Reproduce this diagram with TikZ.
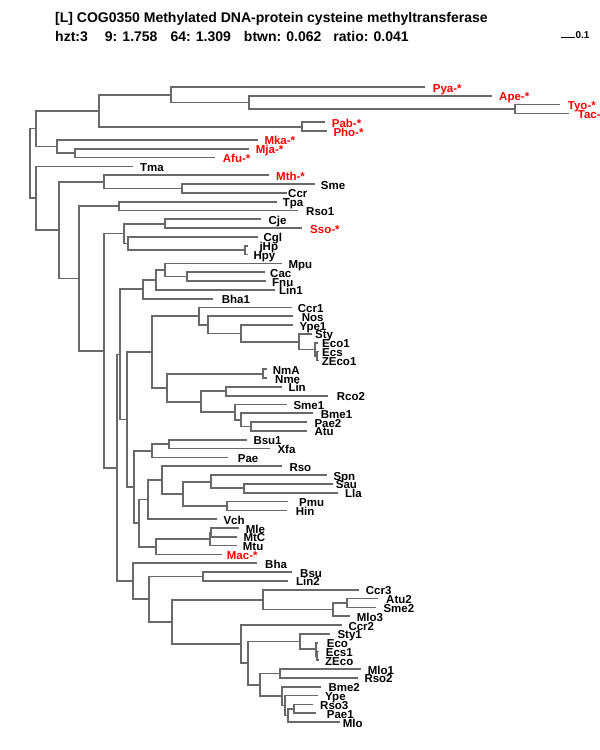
\documentclass[tikz,border=0pt]{standalone}
\usepackage{fontspec}
\setmainfont{Liberation Sans}
\usetikzlibrary{calc}
\definecolor{branchgray}{RGB}{105,105,105}
\tikzset{
  branch/.style={draw=branchgray, line width=1.7pt},
  leaflab/.style={anchor=base west, inner sep=0pt, yshift=-5pt, font=\fontsize{11.5}{12}\selectfont\bfseries},
  headtxt/.style={anchor=base west, inner sep=0pt, font=\fontsize{14}{16}\selectfont\bfseries},
}
\begin{document}
\begin{tikzpicture}[x=1pt, y=-8.82pt]
\useasboundingbox (0pt,87pt) rectangle (600pt,-663pt);
% heading
\node[headtxt] (title) at (55pt,64.7pt) {[L] COG0350 Methylated DNA-protein cysteine methyltransferase};
\node[headtxt] (stats) at (55pt,45.5pt) {hzt:3\hspace{17pt}9: 1.758\hspace{13pt}64: 1.309\hspace{13pt}btwn: 0.062\hspace{12pt}ratio: 0.041};
% scale bar
\coordinate (sbl) at (561pt,49.7pt);
\coordinate (sbr) at (575pt,49.7pt);
\draw[line width=1pt] (sbl) -- (sbr) node[anchor=base west, inner sep=0pt, yshift=-1.2pt, font=\fontsize{10}{11}\selectfont\bfseries] (sblab) {0.1};
% leaves: name / row / line end / label x / text / colour
\foreach \nm/\i/\e/\l/\txt/\col in {
  Pya/0/425/432.7/Pya-*/red, Ape/1/491.7/499/Ape-*/red,
  Tyo/2/560/567.7/Tyo-*/red, Tac/3/569.3/577.7/Tac-/red,
  Pab/4/325/331.7/Pab-*/red, Pho/5/326.7/333.3/Pho-*/red,
  Mka/6/257.7/264.3/Mka-*/red, Mja/7/249/255.7/Mja-*/red,
  Afu/8/215/222.7/Afu-*/red, Tma/9/133.3/140/Tma/black,
  Mth/10/269/276/Mth-*/red, Sme/11/315/320.7/Sme/black,
  Ccr/12/286.7/288/Ccr/black, Tpa/13/276.7/282.7/Tpa/black,
  Rso1/14/298.3/306/Rso1/black, Cje/15/261/268.3/Cje/black,
  Sso/16/301.7/310/Sso-*/red, Cgl/17/257.7/263.3/Cgl/black,
  jHp/18/248.3/259.3/jHp/black, Hpy/19/248.3/253.3/Hpy/black,
  Mpu/20/281.7/288.3/Mpu/black, Cac/21/265/270/Cac/black,
  Fnu/22/265.7/272/Fnu/black, Lin1/23/275/279/Lin1/black,
  Bha1/24/213.3/221.7/Bha1/black, Ccr1/25/291.7/297.7/Ccr1/black,
  Nos/26/293.3/301.7/Nos/black, Ype1/27/293.3/299.3/Ype1/black,
  Sty/28/311.7/315/Sty/black, Eco1/29/318/322/Eco1/black,
  Ecs/30/318.5/322/Ecs/black, ZEco1/31/318.5/321.7/ZEco1/black,
  NmA/32/266.7/272.7/NmA/black, Nme/33/266.7/275/Nme/black,
  Lin/34/281.7/288.3/Lin/black, Rco2/35/328.3/336.7/Rco2/black,
  Sme1/36/286.7/293.3/Sme1/black, Bme1/37/313.3/320.7/Bme1/black,
  Pae2/38/307.3/314.3/Pae2/black, Atu/39/307.3/314.3/Atu/black,
  Bsu1/40/246.7/253.3/Bsu1/black, Xfa/41/270/277.3/Xfa/black,
  Pae/42/228.3/237.7/Pae/black, Rso/43/281.7/289.3/Rso/black,
  Spn/44/326.7/333.3/Spn/black, Sau/45/333.3/335.7/Sau/black,
  Lla/46/338.3/345/Lla/black, Pmu/47/288.3/299/Pmu/black,
  Hin/48/286.7/295.7/Hin/black, Vch/49/216.7/223.3/Vch/black,
  Mle/50/239/245.7/Mle/black, MtC/51/236.7/243.3/MtC/black,
  Mtu/52/236.7/242.7/Mtu/black, Mac/53/221.7/226.7/Mac-*/red,
  Bha/54/256.7/265/Bha/black, Bsu/55/292.3/300/Bsu/black,
  Lin2/56/288.3/296/Lin2/black, Ccr3/57/359.3/365.7/Ccr3/black,
  Atu2/58/378.3/386/Atu2/black, Sme2/59/376/383.3/Sme2/black,
  Mlo3/60/350/356.7/Mlo3/black, Ccr2/61/341.7/348.3/Ccr2/black,
  Sty1/62/330/337.3/Sty1/black, Eco/63/318/326.7/Eco/black,
  Ecs1/64/318.5/325.7/Ecs1/black, ZEco/65/318.5/325/ZEco/black,
  Mlo1/66/361/367.7/Mlo1/black, Rso2/67/358.3/364.3/Rso2/black,
  Bme2/68/320.7/328.3/Bme2/black, Ype/69/318.3/325/Ype/black,
  Rso3/70/313.3/320/Rso3/black, Pae1/71/316/326.7/Pae1/black,
  Mlo/72/340/342.7/Mlo/black}
{
  \coordinate (\nm) at (\e,\i);
  \node[leaflab, text=\col] (l\nm) at (\l,\i) {\txt};
}
% joins, children before parents: name / x / upper child / lower child
\foreach \nm/\px/\ca/\cb in {
  nD/515/Tyo/Tac, nC/249/Ape/nD, nB/171/Pya/nC, nE/301.7/Pab/Pho,
  nA/98.7/nB/nE, nG/75/Mja/Afu, nF/57/Mka/nG, nX1/35.7/nA/nF,
  nK/182.3/Sme/Ccr, nI/104.3/Mth/nK, nL/119/Tpa/Rso1,
  nP/165/Cje/Sso, nR/245/jHp/Hpy, nQ/128.3/Cgl/nR, nN/124/nP/nQ,
  nU/186.7/Cac/Fnu, nT/165/Mpu/nU, nS/155.7/nT/Lin1, nV/143.3/nS/Bha1,
  nY2/316.7/Ecs/ZEco1, nY1/315/Eco1/nY2, nZ/299.3/Sty/nY1,
  nAA/240.7/Ype1/nZ, nAB/207.7/Nos/nAA, nAC/199.3/Ccr1/nAB,
  nAJ/263.3/NmA/Nme, nAH/226/Lin/Rco2, nAE/250.7/Pae2/Atu,
  nAF/241.3/Bme1/nAE, nAG/235.3/Sme1/nAF, nAI/201/nAH/nAG,
  nAK/167.3/nAJ/nAI, nAD/152.3/nAC/nAK,
  nAP/169/Bsu1/Xfa, nAN/152.3/nAP/Pae,
  nAU2/244/Sau/Lla, nAU1/210.7/Spn/nAU2, nAV/226.7/Pmu/Hin,
  nAT/183.3/nAU1/nAV, nAS/161.7/Rso/nAT, nAQ/148.3/nAS/Vch,
  nAW2/211/Mle/MtC, nAW/210/nAW2/Mtu, nAR/155.7/nAW/Mac,
  nAO/139.3/nAQ/nAR, nAM/134.3/nAN/nAO, nAL/127.3/nAD/nAM,
  nW/120/nV/nAL,
  nBL/202.7/Bsu/Lin2, nBC1/346.7/Atu2/Sme2, nBC2/333.3/nBC1/Mlo3,
  nBC3/263.3/Ccr3/nBC2, nBE2/317/Ecs1/ZEco, nBE1/316/Eco/nBE2,
  nBD7/300/Sty1/nBE1, nBD5/280/Mlo1/Rso2, nBD1/294/Rso3/Pae1,
  nBD2/288.3/nBD1/Mlo, nBD3/285/Ype/nBD2, nBD4/281.7/Bme2/nBD3,
  nBD6/260/nBD5/nBD4, nBD8/247.7/nBD7/nBD6, nBD9/240.7/Ccr2/nBD8,
  nBD10/171.7/nBC3/nBD9, nBD11/149/nBL/nBD10, nBB/133.3/Bha/nBD11,
  nO/116.7/nW/nBB, nM/104.3/nN/nO, nJ/79.3/nL/nM, nH/59.3/nI/nJ,
  nX2/35.7/Tma/nH, root/30/nX1/nX2}
{
  \path let \p1=($(\ca)!.5!(\cb)$) in coordinate (\nm) at (\px pt,\y1);
  \draw[branch] (\ca) -| (\nm) |- (\cb);
}
\end{tikzpicture}
\end{document}
